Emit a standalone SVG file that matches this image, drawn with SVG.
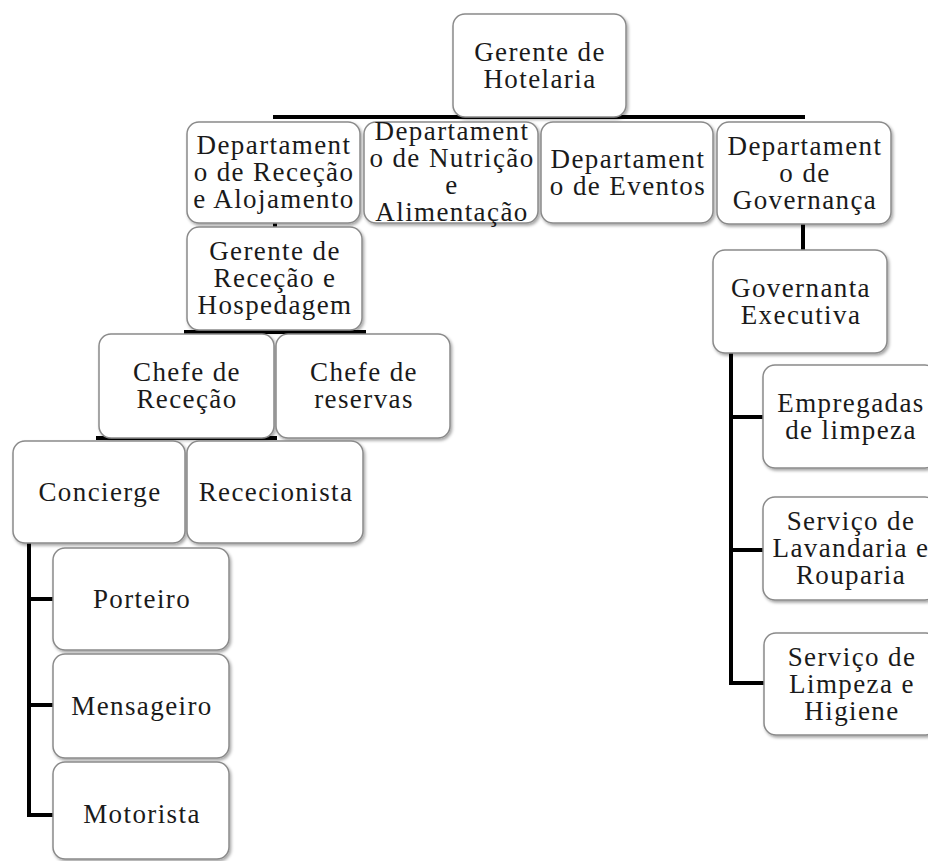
<svg xmlns="http://www.w3.org/2000/svg" width="928" height="861" viewBox="0 0 928 861">
  <defs>
    <filter id="shadow" x="-10%" y="-10%" width="125%" height="130%">
      <feDropShadow dx="1.5" dy="2" stdDeviation="1.5" flood-color="#000" flood-opacity="0.35"/>
    </filter>
  </defs>
  <style>
    .box { fill: #ffffff; stroke: #8a8a8a; stroke-width: 1.5; filter: url(#shadow); }
    .lbl { font-family: "Liberation Serif", "DejaVu Serif", serif; font-size: 27px; letter-spacing: 1.4px; fill: #1a1a1a; text-anchor: middle; }
    .link { stroke: #000; stroke-width: 4; fill: none; }
  </style>
  <rect width="928" height="861" fill="#ffffff"/>

  <!-- connectors -->
  <g id="connectors">
    <line class="link" x1="273" y1="117" x2="805" y2="117"/>
    <line class="link" x1="275" y1="222" x2="275" y2="229"/>
    <line class="link" x1="803" y1="223" x2="803" y2="251"/>
    <line class="link" x1="184" y1="332" x2="366" y2="332"/>
    <line class="link" x1="96" y1="438" x2="277" y2="438"/>
    <polyline class="link" points="29,543 29,815 54,815"/>
    <line class="link" x1="29" y1="599" x2="54" y2="599"/>
    <line class="link" x1="29" y1="705" x2="54" y2="705"/>
    <polyline class="link" points="731,352 731,683 764,683"/>
    <line class="link" x1="731" y1="417" x2="764" y2="417"/>
    <line class="link" x1="731" y1="550" x2="764" y2="550"/>
  </g>

  <g id="gerente-hotelaria">
    <rect class="box" x="453" y="14" width="173" height="103" rx="12"/>
    <text class="lbl"><tspan x="540" y="61">Gerente de</tspan><tspan x="540" y="88">Hotelaria</tspan></text>
  </g>

  <g id="dep-rececao">
    <rect class="box" x="187" y="122" width="173" height="101" rx="12"/>
    <text class="lbl"><tspan x="274" y="154">Departament</tspan><tspan x="274" y="181">o de Receção</tspan><tspan x="274" y="208">e Alojamento</tspan></text>
  </g>

  <g id="dep-nutricao">
    <rect class="box" x="364" y="122" width="174" height="101" rx="12"/>
    <text class="lbl"><tspan x="452" y="140">Departament</tspan><tspan x="452" y="167">o de Nutrição</tspan><tspan x="452" y="194">e</tspan><tspan x="452" y="221">Alimentação</tspan></text>
  </g>

  <g id="dep-eventos">
    <rect class="box" x="541" y="122" width="172" height="101" rx="12"/>
    <text class="lbl"><tspan x="628" y="168">Departament</tspan><tspan x="628" y="195">o de Eventos</tspan></text>
  </g>

  <g id="dep-governanca">
    <rect class="box" x="717" y="122" width="174" height="102" rx="12"/>
    <text class="lbl"><tspan x="805" y="155">Departament</tspan><tspan x="805" y="182">o de</tspan><tspan x="805" y="209">Governança</tspan></text>
  </g>

  <g id="governanta-executiva">
    <rect class="box" x="713" y="250" width="174" height="103" rx="12"/>
    <text class="lbl"><tspan x="801" y="297">Governanta</tspan><tspan x="801" y="324">Executiva</tspan></text>
  </g>

  <g id="gerente-rececao">
    <rect class="box" x="187" y="227" width="175" height="103" rx="12"/>
    <text class="lbl"><tspan x="275" y="260">Gerente de</tspan><tspan x="275" y="287">Receção e</tspan><tspan x="275" y="314">Hospedagem</tspan></text>
  </g>

  <g id="chefe-rececao">
    <rect class="box" x="99" y="334" width="175" height="104" rx="12"/>
    <text class="lbl"><tspan x="187" y="381">Chefe de</tspan><tspan x="187" y="408">Receção</tspan></text>
  </g>

  <g id="chefe-reservas">
    <rect class="box" x="276" y="334" width="174" height="104" rx="12"/>
    <text class="lbl"><tspan x="364" y="381">Chefe de</tspan><tspan x="364" y="408">reservas</tspan></text>
  </g>

  <g id="concierge">
    <rect class="box" x="13" y="441" width="172" height="102" rx="12"/>
    <text class="lbl" x="100" y="501">Concierge</text>
  </g>

  <g id="rececionista">
    <rect class="box" x="187" y="441" width="176" height="102" rx="12"/>
    <text class="lbl" x="276" y="501">Rececionista</text>
  </g>

  <g id="porteiro">
    <rect class="box" x="53" y="548" width="176" height="102" rx="12"/>
    <text class="lbl" x="142" y="608">Porteiro</text>
  </g>

  <g id="mensageiro">
    <rect class="box" x="53" y="654" width="176" height="104" rx="12"/>
    <text class="lbl" x="142" y="715">Mensageiro</text>
  </g>

  <g id="motorista">
    <rect class="box" x="53" y="762" width="176" height="97" rx="12"/>
    <text class="lbl" x="142" y="823">Motorista</text>
  </g>

  <g id="empregadas-limpeza">
    <rect class="box" x="763" y="365" width="174" height="103" rx="12"/>
    <text class="lbl"><tspan x="851" y="412">Empregadas</tspan><tspan x="851" y="439">de limpeza</tspan></text>
  </g>

  <g id="lavandaria-rouparia">
    <rect class="box" x="763" y="497" width="174" height="103" rx="12"/>
    <text class="lbl"><tspan x="851" y="530">Serviço de</tspan><tspan x="851" y="557">Lavandaria e</tspan><tspan x="851" y="584">Rouparia</tspan></text>
  </g>

  <g id="limpeza-higiene">
    <rect class="box" x="764" y="633" width="174" height="102" rx="12"/>
    <text class="lbl"><tspan x="852" y="666">Serviço de</tspan><tspan x="852" y="693">Limpeza e</tspan><tspan x="852" y="720">Higiene</tspan></text>
  </g>
</svg>
